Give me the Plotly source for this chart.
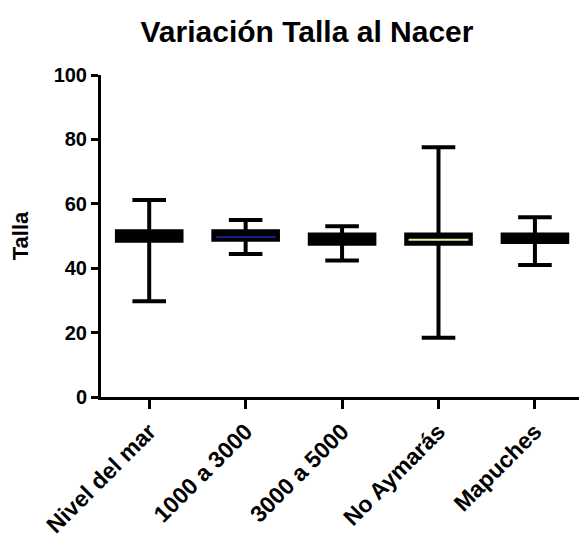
import plotly.graph_objects as go

# Talla al nacer (cm) por grupo
grupos = ["Nivel del mar", "1000 a 3000", "3000 a 5000", "No Aymarás", "Mapuches"]
minimo = [29.7, 44.4, 42.4, 18.4, 41.0]
q1 = [48.5, 48.8, 47.6, 47.6, 48.1]
mediana = [50.0, 49.7, 49.0, 48.8, 49.5]
q3 = [51.5, 51.5, 50.5, 50.5, 50.5]
maximo = [61.2, 55.0, 53.0, 77.6, 55.8]

# color de la línea de mediana resaltada (None = no se resalta)
color_mediana = [None, "#1c1c8c", None, "#f2eca0", None]

pos = list(range(len(grupos)))
fuente = "Liberation Sans, Arial, sans-serif"

fig = go.Figure()
fig.add_trace(go.Box(
    x=pos,
    q1=q1, median=mediana, q3=q3,
    lowerfence=minimo, upperfence=maximo,
    width=0.67,
    whiskerwidth=0.52,
    fillcolor="black",
    line=dict(color="black", width=4),
    boxpoints=False,
    showlegend=False,
    hoverinfo="skip",
))

for i, c in enumerate(color_mediana):
    if c:
        fig.add_trace(go.Scatter(
            x=[pos[i] - 0.31, pos[i] + 0.31],
            y=[mediana[i], mediana[i]],
            mode="lines",
            line=dict(color=c, width=2),
            showlegend=False,
            hoverinfo="skip",
        ))

fig.update_layout(
    width=579, height=538,
    margin=dict(l=101, r=0, t=75, b=139),
    paper_bgcolor="white", plot_bgcolor="white",
    font=dict(family=fuente, color="black"),
    title=dict(
        text="<b>Variación Talla al Nacer</b>",
        font=dict(family=fuente, size=30, color="black"),
        x=307 / 579, xanchor="center", xref="container",
        y=1 - 31 / 538, yanchor="middle", yref="container",
    ),
    xaxis=dict(
        range=[-0.5, 4.457],
        tickmode="array", tickvals=pos,
        ticktext=["<b>%s</b>" % g for g in grupos],
        tickangle=-45,
        tickfont=dict(family=fuente, size=23, color="black"),
        showline=True, linecolor="black", linewidth=3,
        ticks="outside", ticklen=9, tickwidth=2.5, tickcolor="black",
        showgrid=False, zeroline=False,
    ),
    yaxis=dict(
        range=[0, 100],
        tickmode="array", tickvals=[0, 20, 40, 60, 80, 100],
        ticktext=["<b>%d</b>" % v for v in [0, 20, 40, 60, 80, 100]],
        tickfont=dict(family=fuente, size=20, color="black"),
        showline=True, linecolor="black", linewidth=3,
        ticks="outside", ticklen=7, tickwidth=2.5, tickcolor="black",
        showgrid=False, zeroline=False,
        title=dict(text="<b>Talla</b>", font=dict(family=fuente, size=22, color="black"), standoff=19),
    ),
)

fig.write_html("out.html")
